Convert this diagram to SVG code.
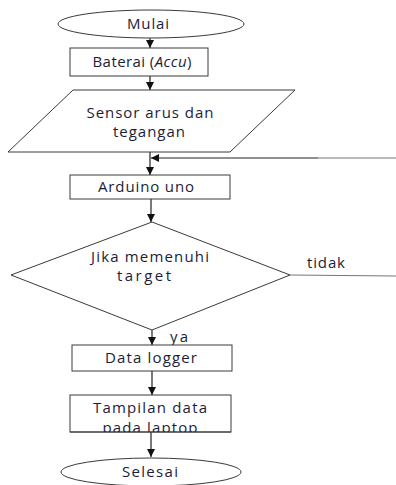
<svg xmlns="http://www.w3.org/2000/svg" width="396" height="485" viewBox="0 0 396 485">
<style>
.shape{fill:#fff;stroke:#3a3a3a;stroke-width:1}
.t{font-family:"Open Sans","Liberation Sans",sans-serif;font-size:15px;fill:#1c1c3a;text-anchor:middle}
.c{fill:none;stroke:#222;stroke-width:1.2}
.g{fill:none;stroke:#777;stroke-width:1.2}
</style>
<defs>
<marker id="ah" markerUnits="userSpaceOnUse" markerWidth="10" markerHeight="10" refX="8" refY="4" orient="auto">
<path d="M0,0 L8,4 L0,8 Z" fill="#111"/>
</marker>
<clipPath id="clipT"><rect x="70" y="395" width="161" height="37"/></clipPath>
</defs>
<rect width="396" height="485" fill="#fff"/>
<g id="connectors">
<line class="c" x1="150" y1="38" x2="150" y2="48" marker-end="url(#ah)"/>
<line class="c" x1="150" y1="76" x2="150" y2="90" marker-end="url(#ah)"/>
<line class="c" x1="150" y1="152" x2="150" y2="175" marker-end="url(#ah)"/>
<line class="c" x1="318" y1="158" x2="151" y2="158" marker-end="url(#ah)"/>
<line class="g" x1="396" y1="158" x2="318" y2="158"/>
<line class="c" x1="151" y1="199" x2="151" y2="222" marker-end="url(#ah)"/>
<line class="g" x1="290" y1="275" x2="396" y2="276"/>
<line class="c" x1="152" y1="330" x2="152" y2="345" marker-end="url(#ah)"/>
<line class="c" x1="152" y1="371" x2="152" y2="395" marker-end="url(#ah)"/>
<line class="c" x1="151" y1="432" x2="151" y2="457" marker-end="url(#ah)"/>
<text class="t" x="326" y="268" textLength="38" lengthAdjust="spacing">tidak</text>
<text class="t" x="179" y="342" textLength="18" lengthAdjust="spacing">ya</text>
</g>
<g id="mulai">
<ellipse class="shape" cx="151" cy="24" rx="93" ry="14"/>
<text class="t" x="148" y="29" textLength="42" lengthAdjust="spacing">Mulai</text>
</g>
<g id="baterai">
<rect class="shape" x="70" y="48" width="138" height="28"/>
<text class="t" x="142" y="67" textLength="99" lengthAdjust="spacing">Baterai (<tspan font-style="italic">Accu</tspan>)</text>
</g>
<g id="sensor">
<polygon class="shape" points="73,90 295,90 230,152 8,152"/>
<text class="t" x="150" y="118" textLength="127" lengthAdjust="spacing">Sensor arus dan</text>
<text class="t" x="149" y="137" textLength="72" lengthAdjust="spacing">tegangan</text>
</g>
<g id="arduino">
<rect class="shape" x="70" y="175" width="160" height="24"/>
<text class="t" x="146" y="192" textLength="96" lengthAdjust="spacing">Arduino uno</text>
</g>
<g id="decision">
<polygon class="shape" points="152,222 290,275 152,330 11,275"/>
<text class="t" x="150" y="262" textLength="118" lengthAdjust="spacing">Jika memenuhi</text>
<text class="t" x="144" y="281" textLength="54" lengthAdjust="spacing">target</text>
</g>
<g id="datalogger">
<rect class="shape" x="72" y="345" width="160" height="26"/>
<text class="t" x="151" y="363" textLength="92" lengthAdjust="spacing">Data logger</text>
</g>
<g id="tampilan">
<rect class="shape" x="70" y="395" width="161" height="37"/>
<text class="t" x="150" y="413" textLength="114" lengthAdjust="spacing">Tampilan data</text>
<text class="t" x="150" y="433" textLength="95" lengthAdjust="spacing" clip-path="url(#clipT)">pada laptop</text>
<line x1="70" y1="432" x2="231" y2="432" stroke="#3a3a3a" stroke-width="1"/>
</g>
<g id="selesai">
<ellipse class="shape" cx="151" cy="472" rx="90" ry="14"/>
<text class="t" x="150" y="477" textLength="56" lengthAdjust="spacing">Selesai</text>
</g>
</svg>
